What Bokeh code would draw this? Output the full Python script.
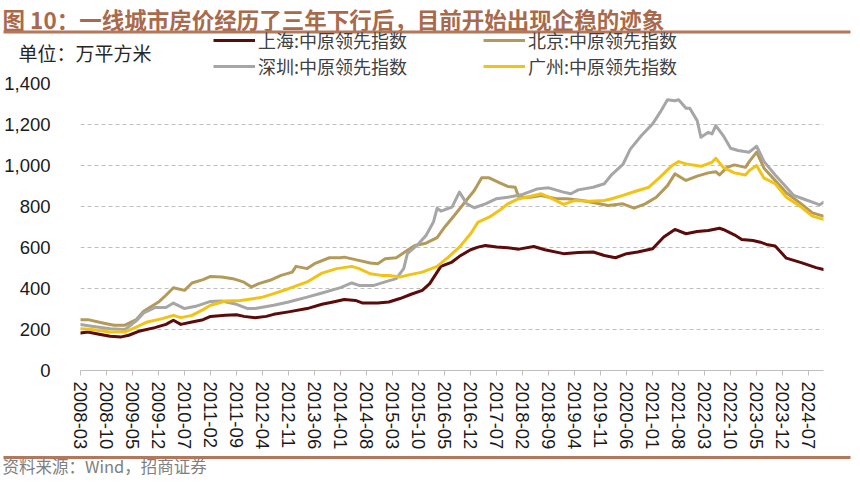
from bokeh.plotting import figure
from bokeh.layouts import column
from bokeh.models import (Range1d, FixedTicker, Legend, LegendItem, Label,
                          BoxAnnotation, NumeralTickFormatter)
from bokeh.embed import file_html
from bokeh.resources import INLINE

# ---------------- data ----------------
TITLE = "图 10：一线城市房价经历了三年下行后，目前开始出现企稳的迹象"
UNIT = "单位：万平方米"
SOURCE = "资料来源：Wind，招商证券"

START = "2008-03"
END = "2024-11"

TICK_LABELS = ["2008-03", "2008-10", "2009-05", "2009-12", "2010-07", "2011-02",
               "2011-09", "2012-04", "2012-11", "2013-06", "2014-01", "2014-08",
               "2015-03", "2015-10", "2016-05", "2016-12", "2017-07", "2018-02",
               "2018-09", "2019-04", "2019-11", "2020-06", "2021-01", "2021-08",
               "2022-03", "2022-10", "2023-05", "2023-12", "2024-07"]

SH_NAME = "上海:中原领先指数"
SH_DATES = ["2008-03", "2008-05", "2008-08", "2008-11", "2009-02", "2009-04", "2009-07",
            "2009-11", "2010-02", "2010-04", "2010-06", "2010-09", "2010-12", "2011-02",
            "2011-06", "2011-09", "2011-11", "2012-02", "2012-05", "2012-07", "2012-11",
            "2013-04", "2013-08", "2013-11", "2014-02", "2014-05", "2014-07", "2014-11",
            "2015-02", "2015-05", "2015-08", "2015-11", "2016-01", "2016-03", "2016-04",
            "2016-07", "2016-09", "2016-12", "2017-02", "2017-04", "2017-07", "2017-10",
            "2018-01", "2018-05", "2018-08", "2019-01", "2019-05", "2019-09", "2019-12",
            "2020-03", "2020-06", "2020-09", "2021-01", "2021-04", "2021-07", "2021-10",
            "2022-01", "2022-04", "2022-07", "2022-08", "2022-11", "2023-01", "2023-04",
            "2023-06", "2023-08", "2023-10", "2024-01", "2024-05", "2024-09", "2024-11"]
SH_VALUES = [183, 188, 177, 167, 164, 172, 193,
             209, 225, 245, 225, 237, 248, 264,
             269, 272, 264, 257, 264, 274, 286,
             302, 323, 334, 346, 342, 329, 329,
             334, 351, 372, 391, 424, 480, 508,
             529, 557, 589, 602, 610, 602, 599,
             592, 605, 589, 570, 576, 578, 561,
             550, 570, 578, 594, 651, 688, 667,
             678, 683, 694, 688, 662, 639, 634,
             626, 613, 607, 548, 526, 502, 493]

BJ_NAME = "北京:中原领先指数"
BJ_DATES = ["2008-03", "2008-05", "2008-09", "2008-12", "2009-03", "2009-06", "2009-08",
            "2009-12", "2010-02", "2010-04", "2010-07", "2010-09", "2010-12", "2011-02",
            "2011-05", "2011-08", "2011-11", "2012-01", "2012-03", "2012-06", "2012-09",
            "2012-12", "2013-01", "2013-04", "2013-06", "2013-10", "2014-01", "2014-02",
            "2014-05", "2014-09", "2014-11", "2015-01", "2015-04", "2015-07", "2015-09",
            "2015-12", "2016-03", "2016-05", "2016-08", "2016-11", "2017-01", "2017-03",
            "2017-05", "2017-08", "2017-10", "2017-12", "2018-01", "2018-04", "2018-07",
            "2018-11", "2019-02", "2019-06", "2019-10", "2020-01", "2020-05", "2020-08",
            "2020-11", "2021-02", "2021-05", "2021-07", "2021-10", "2022-01", "2022-04",
            "2022-06", "2022-07", "2022-09", "2022-11", "2023-02", "2023-03", "2023-05",
            "2023-07", "2023-10", "2024-01", "2024-05", "2024-08", "2024-11"]
BJ_VALUES = [248, 248, 232, 221, 221, 248, 289,
             334, 367, 404, 391, 427, 443, 459,
             456, 448, 431, 407, 424, 440, 464,
             480, 508, 497, 521, 550, 550, 553,
             541, 524, 521, 545, 550, 586, 610,
             621, 648, 699, 765, 833, 878, 940,
             940, 914, 898, 894, 845, 845, 854,
             838, 838, 829, 816, 805, 813, 792,
             813, 845, 902, 959, 927, 948, 964,
             970, 954, 991, 1003, 991, 1019, 1065,
             987, 927, 867, 813, 769, 753]

SZ_NAME = "深圳:中原领先指数"
SZ_DATES = ["2008-03", "2008-06", "2008-11", "2009-03", "2009-06", "2009-08", "2009-11",
            "2010-02", "2010-04", "2010-07", "2010-10", "2011-02", "2011-05", "2011-09",
            "2011-12", "2012-02", "2012-07", "2012-11", "2013-04", "2013-08", "2014-01",
            "2014-04", "2014-06", "2014-10", "2015-01", "2015-04", "2015-06", "2015-07",
            "2015-10", "2015-12", "2016-02", "2016-03", "2016-04", "2016-05", "2016-07",
            "2016-09", "2016-11", "2017-01", "2017-04", "2017-07", "2017-10", "2018-02",
            "2018-06", "2018-09", "2019-01", "2019-03", "2019-05", "2019-09", "2019-12",
            "2020-02", "2020-05", "2020-07", "2020-10", "2021-01", "2021-03", "2021-05",
            "2021-07", "2021-08", "2021-10", "2021-11", "2022-01", "2022-02", "2022-04",
            "2022-05", "2022-06", "2022-08", "2022-10", "2022-12", "2023-03", "2023-05",
            "2023-07", "2023-10", "2024-01", "2024-03", "2024-06", "2024-08", "2024-10",
            "2024-11"]
SZ_VALUES = [224, 216, 204, 200, 242, 281, 307,
             307, 329, 302, 313, 337, 339, 323,
             302, 302, 318, 334, 358, 378, 404,
             427, 415, 415, 432, 448, 497, 570,
             618, 659, 724, 792, 777, 784, 797,
             870, 813, 794, 813, 838, 845, 859,
             886, 891, 870, 862, 881, 894, 911,
             956, 1005, 1080, 1146, 1203, 1259, 1321,
             1316, 1321, 1279, 1279, 1219, 1138, 1162,
             1154, 1195, 1146, 1084, 1073, 1065, 1094,
             1019, 954, 894, 854, 834, 821, 808,
             821]

GZ_NAME = "广州:中原领先指数"
GZ_DATES = ["2008-03", "2008-06", "2008-11", "2009-03", "2009-06", "2009-09", "2010-01",
            "2010-04", "2010-06", "2010-09", "2010-12", "2011-02", "2011-06", "2011-10",
            "2011-12", "2012-04", "2012-07", "2012-11", "2013-04", "2013-08", "2013-12",
            "2014-04", "2014-06", "2014-09", "2014-12", "2015-02", "2015-05", "2015-08",
            "2015-11", "2016-03", "2016-06", "2016-09", "2016-12", "2017-02", "2017-05",
            "2017-08", "2017-10", "2018-01", "2018-04", "2018-07", "2018-10", "2019-01",
            "2019-04", "2019-08", "2019-12", "2020-02", "2020-05", "2020-08", "2020-12",
            "2021-03", "2021-06", "2021-08", "2021-10", "2022-02", "2022-05", "2022-06",
            "2022-08", "2022-11", "2023-02", "2023-03", "2023-05", "2023-07", "2023-10",
            "2024-01", "2024-05", "2024-08", "2024-11"]
GZ_VALUES = [204, 200, 188, 188, 212, 237, 253,
             269, 258, 269, 297, 318, 339, 342,
             346, 358, 375, 399, 432, 475, 497,
             508, 497, 472, 464, 464, 456, 469,
             480, 508, 553, 602, 667, 724, 748,
             784, 813, 838, 849, 862, 838, 810,
             829, 826, 829, 838, 854, 872, 894,
             943, 996, 1019, 1008, 996, 1016, 1035,
             991, 964, 954, 975, 1000, 938, 911,
             845, 797, 753, 737]

Y_MAX = 1400
Y_TICKS = [0, 200, 400, 600, 800, 1000, 1200, 1400]

# ---------------- styles / layout ----------------
C_SH = "#5C0B0B"
C_BJ = "#B39A58"
C_SZ = "#A6A6A6"
C_GZ = "#F2C314"
C_TITLE = "#A9694B"
C_RULE = "#B3785C"
NUM_FONT = "Liberation Sans"
CJK_FONT = "Noto Sans CJK SC"
LINE_W = 3

W = 852
TOP_H = 82                   # strip with title / unit / legend: y 0..82
MAIN_Y0, MAIN_Y1 = 56, 452   # main chart overlaps the strips (transparent border)
BOT_Y0, BOT_H = 436, 42      # bottom strip y 436..478
FRAME_L, FRAME_R, FRAME_T, FRAME_B = 80, 823, 83, 370


def midx(s):
    y0, m0 = map(int, START.split("-"))
    y, m = map(int, s.split("-"))
    return (y - y0) * 12 + (m - m0)


def blank(h):
    f = figure(width=W, height=h, output_backend="svg", toolbar_location=None,
               x_range=Range1d(0, W), y_range=Range1d(h, 0),
               x_axis_type=None, y_axis_type=None,
               min_border_left=0, min_border_right=0, min_border_top=0,
               min_border_bottom=0)
    f.outline_line_color = None
    f.xgrid.visible = False
    f.ygrid.visible = False
    f.background_fill_alpha = 0
    f.border_fill_alpha = 0
    return f


def text(f, s, x, y, size, color, bold=False):
    f.add_layout(Label(x=x, y=y, text=s, text_font=CJK_FONT, text_font_size=size,
                       text_color=color, text_baseline="middle", text_align="left",
                       text_font_style="bold" if bold else "normal"))


def rule(f, y0, y1):
    f.add_layout(BoxAnnotation(left=3, right=850, top=y0, bottom=y1,
                               fill_color=C_RULE, fill_alpha=1, line_color=None,
                               line_alpha=0))


series = [(SH_NAME, SH_DATES, SH_VALUES, C_SH),
          (BJ_NAME, BJ_DATES, BJ_VALUES, C_BJ),
          (SZ_NAME, SZ_DATES, SZ_VALUES, C_SZ),
          (GZ_NAME, GZ_DATES, GZ_VALUES, C_GZ)]

# ---------------- top strip: title, rule, unit, legend ----------------
top = blank(TOP_H)
text(top, TITLE, 2, 18, "22.5px", C_TITLE, bold=True)
rule(top, 30, 33)
text(top, UNIT, 18, 52, "19px", "#262626")

keys = {}
for name, _, _, col in series:
    # legend-key proxies only (a single point draws nothing)
    keys[name] = top.line(x=[0], y=[0], line_color=col, line_width=LINE_W)


def make_legend(names, x):
    lg = Legend(items=[LegendItem(label=n, renderers=[keys[n]]) for n in names],
                location=(x, TOP_H - 79), orientation="vertical")
    lg.padding = 0
    lg.margin = 0
    lg.spacing = 0
    lg.glyph_width = 42
    lg.glyph_height = 20
    lg.label_height = 22
    lg.label_standoff = 3
    lg.label_text_font = CJK_FONT
    lg.label_text_font_size = "18px"
    lg.label_text_color = "#404040"
    lg.border_line_color = None
    lg.background_fill_alpha = 0
    return lg


top.add_layout(make_legend([SH_NAME, SZ_NAME], 213))
top.add_layout(make_legend([BJ_NAME, GZ_NAME], 483))

# ---------------- main chart ----------------
MAIN_H = MAIN_Y1 - MAIN_Y0
p = figure(width=W, height=MAIN_H, output_backend="svg", toolbar_location=None,
           x_range=Range1d(0, midx(END)), y_range=Range1d(0, Y_MAX),
           min_border_left=FRAME_L, min_border_right=W - FRAME_R,
           min_border_top=FRAME_T - MAIN_Y0, min_border_bottom=MAIN_Y1 - FRAME_B)
try:
    p.margin = (MAIN_Y0 - TOP_H, 0, 0, 0)
except Exception:
    pass
p.outline_line_color = None
p.background_fill_color = "white"
p.border_fill_alpha = 0

p.xgrid.grid_line_color = None
p.ygrid.grid_line_color = "#BFBFBF"
p.ygrid.grid_line_dash = "4 3"
p.ygrid.grid_line_width = 1
p.yaxis.ticker = FixedTicker(ticks=Y_TICKS)
p.ygrid.ticker = FixedTicker(ticks=Y_TICKS)

p.yaxis.formatter = NumeralTickFormatter(format="0,0")
p.yaxis.axis_line_color = None
p.yaxis.major_tick_line_color = None
p.yaxis.minor_tick_line_color = None
p.yaxis.major_label_standoff = 24
p.yaxis.major_label_text_font = NUM_FONT
p.yaxis.major_label_text_font_size = "18.5px"
p.yaxis.major_label_text_color = "#1A1A1A"

tick_pos = [midx(t) for t in TICK_LABELS]
p.xaxis.ticker = FixedTicker(ticks=tick_pos)
p.xaxis.major_label_overrides = {pos: lab for pos, lab in zip(tick_pos, TICK_LABELS)}
p.xaxis.major_label_orientation = "vertical"
p.xaxis.axis_line_color = "#BFBFBF"
p.xaxis.major_tick_line_color = "#BFBFBF"
p.xaxis.major_tick_out = 5
p.xaxis.major_tick_in = 0
p.xaxis.minor_tick_line_color = None
p.xaxis.major_label_standoff = 6
p.xaxis.major_label_text_font = NUM_FONT
p.xaxis.major_label_text_font_size = "18.5px"
p.xaxis.major_label_text_color = "#1A1A1A"

for name, dates, vals, col in series:
    p.line([midx(d) for d in dates], vals, line_color=col,
           line_width=LINE_W, line_join="round", line_cap="round")

# ---------------- bottom strip: rule, source ----------------
bot = blank(BOT_H)
rule(bot, 455.5 - BOT_Y0, 458.5 - BOT_Y0)
text(bot, SOURCE, 2, 465.5 - BOT_Y0, "16.5px", "#808080")
try:
    bot.margin = (BOT_Y0 - MAIN_Y1, 0, 0, 0)
except Exception:
    pass

page = column(column(top), p, column(bot), spacing=0)
open("out.html", "w").write(file_html(page, INLINE))
